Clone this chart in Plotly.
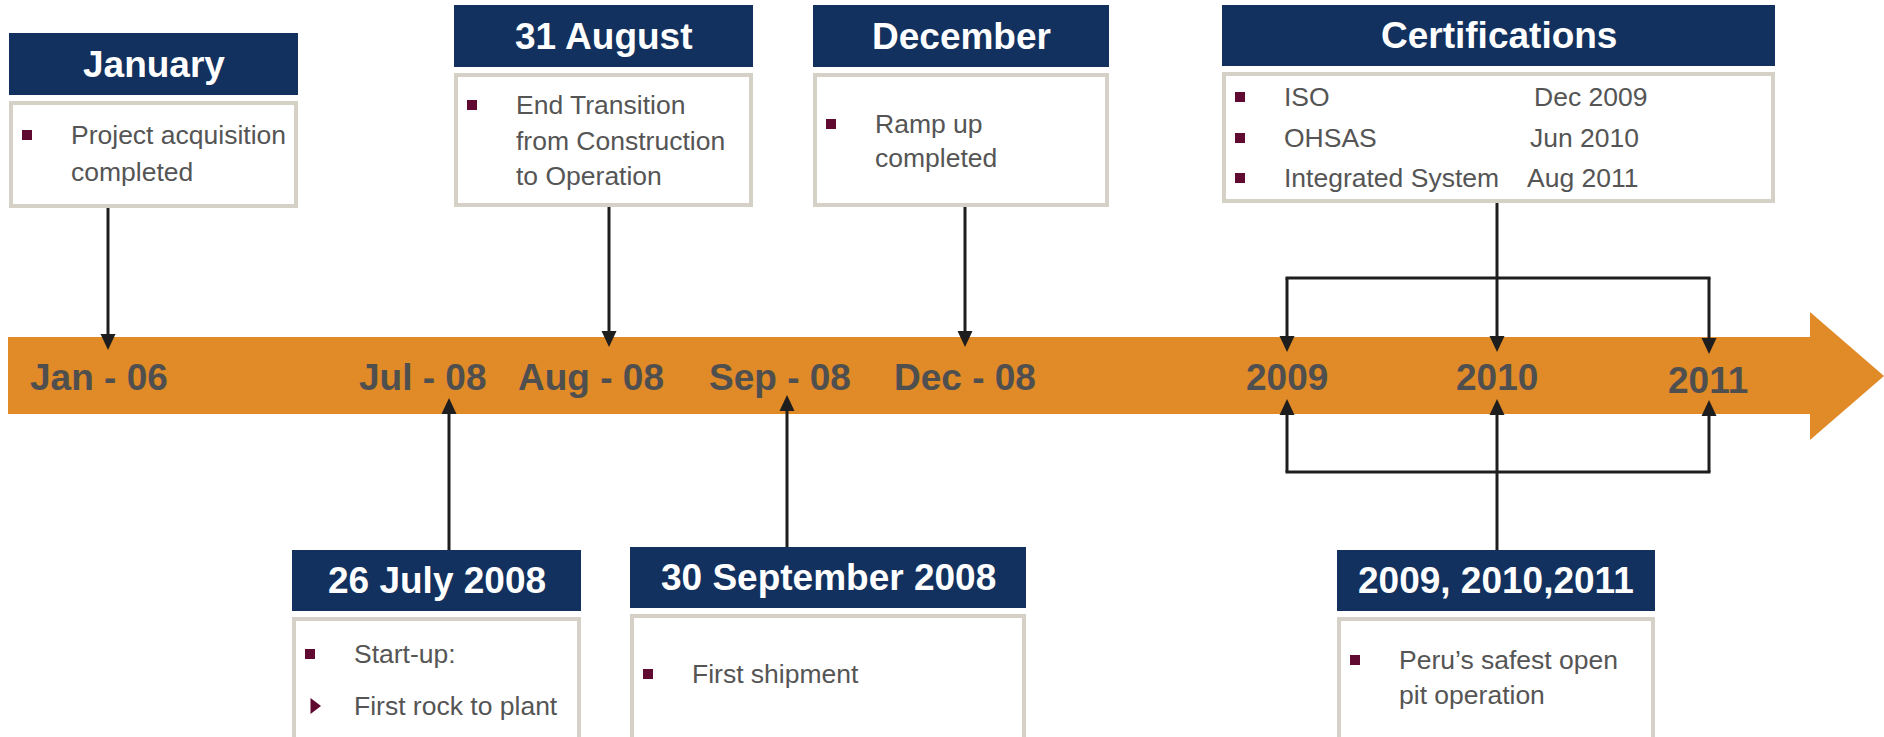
import plotly.graph_objects as go

# ---- chart content ----
bar_labels = ["Jan - 06", "Jul - 08", "Aug - 08", "Sep - 08", "Dec - 08", "2009", "2010", "2011"]

top_titles = ["January", "31 August", "December"]
top_lines = [
    ["Project acquisition", "completed"],
    ["End Transition", "from Construction", "to Operation"],
    ["Ramp up", "completed"],
]

cert_title = "Certifications"
cert_names = ["ISO", "OHSAS", "Integrated System"]
cert_dates = ["Dec 2009", "Jun 2010", "Aug 2011"]

bottom_titles = ["26 July 2008", "30 September 2008", "2009, 2010,2011"]
bottom_lines = [
    ["Start-up:", "First rock to plant"],
    ["First shipment"],
    ["Peru’s safest open", "pit operation"],
]
# bullet symbol for each line ("" means a wrapped continuation line)
bottom_bullets = [
    ["square", "triangle-right"],
    ["square"],
    ["square", ""],
]

# ---- layout / style ----
W, H = 1884, 737
NAVY = "#12315E"
ORANGE = "#E08A28"
BORDER = "#D5D1C7"
MAROON = "#600A32"
TXT = "#555555"
LBL = "#4F4F4F"
INK = "#1E1E1E"
FONT = "Liberation Sans, Arial, sans-serif"

label_pos = [(99, 377), (423, 377), (591, 377), (780, 377), (965, 377),
             (1287, 377), (1497, 377), (1708, 380)]

top_boxes = [
    dict(x0=9, x1=298, hy0=33, hy1=95, by1=208, ax=108, tip=350, ly=[135, 172]),
    dict(x0=454, x1=753, hy0=5, hy1=67, by1=207, ax=609, tip=347, ly=[105, 141, 176]),
    dict(x0=813, x1=1109, hy0=5, hy1=67, by1=207, ax=965, tip=347, ly=[124, 158]),
]
cert_box = dict(x0=1222, x1=1775, hy0=5, hy1=66, by1=203, ly=[97, 138, 178],
                date_x=[1532, 1528, 1525])
bottom_boxes = [
    dict(x0=292, x1=581, hy0=550, hy1=611, ax=449, tip=398, ly=[654, 706]),
    dict(x0=630, x1=1026, hy0=547, hy1=608, ax=787, tip=395, ly=[674]),
    dict(x0=1337, x1=1655, hy0=550, hy1=611, ax=1497, tip=399, ly=[660, 695]),
]
BRACKET_X = (1287, 1497, 1709)
BRACKET_TOP, BRACKET_BOT = 278, 472
TOP_TIPS = (352, 352, 354)
BOT_TIPS = (399, 399, 400)

TEXT_DX, BULLET_DX = 60, 18
HEAD = 16   # arrowhead length
HALF = 7.5  # arrowhead half width

shapes = []
annotations = []
bullets = {"square": ([], []), "triangle-right": ([], [])}


def line(x0, y0, x1, y1):
    shapes.append(dict(type="line", x0=x0, y0=y0, x1=x1, y1=y1,
                       line=dict(color=INK, width=3), layer="above"))


def arrow(x, y_from, y_tip):
    d = 1 if y_tip > y_from else -1
    base = y_tip - d * HEAD
    line(x, y_from, x, base)
    shapes.append(dict(type="path",
                       path=f"M {x - HALF},{base} L {x + HALF},{base} L {x},{y_tip} Z",
                       fillcolor=INK, line=dict(width=0), layer="above"))


def box(x0, x1, hy0, hy1, by1, title):
    shapes.append(dict(type="rect", x0=x0, x1=x1, y0=hy0, y1=hy1,
                       fillcolor=NAVY, line=dict(width=0), layer="below"))
    shapes.append(dict(type="rect", x0=x0 + 2, x1=x1 - 2, y0=hy1 + 8, y1=by1 - 2,
                       fillcolor="white", line=dict(color=BORDER, width=4), layer="below"))
    annotations.append(dict(x=(x0 + x1) / 2, y=(hy0 + hy1) / 2, text=f"<b>{title}</b>",
                            showarrow=False, xanchor="center", yanchor="middle",
                            font=dict(family=FONT, size=37, color="white")))


def body_text(x, y, text):
    annotations.append(dict(x=x, y=y, text=text, showarrow=False,
                            xanchor="left", yanchor="middle",
                            font=dict(family=FONT, size=26.5, color=TXT)))


def bullet(x, y, sym):
    bullets[sym][0].append(x)
    bullets[sym][1].append(y)


# big orange timeline arrow
shapes.append(dict(type="path",
                   path="M 8,337 L 1810,337 L 1810,312 L 1884,376 L 1810,440 L 1810,414 L 8,414 Z",
                   fillcolor=ORANGE, line=dict(width=0), layer="below"))
for (lx, ly), lab in zip(label_pos, bar_labels):
    annotations.append(dict(x=lx, y=ly, text=f"<b>{lab}</b>", showarrow=False,
                            xanchor="center", yanchor="middle",
                            font=dict(family=FONT, size=37, color=LBL)))

# boxes above the bar
for b, title, lines in zip(top_boxes, top_titles, top_lines):
    box(b["x0"], b["x1"], b["hy0"], b["hy1"], b["by1"], title)
    for i, (y, t) in enumerate(zip(b["ly"], lines)):
        body_text(b["x0"] + TEXT_DX, y, t)
        if i == 0:
            bullet(b["x0"] + BULLET_DX, y, "square")
    arrow(b["ax"], b["by1"], b["tip"])

# certifications
c = cert_box
box(c["x0"], c["x1"], c["hy0"], c["hy1"], c["by1"], cert_title)
for y, name, date, dx in zip(c["ly"], cert_names, cert_dates, c["date_x"]):
    body_text(c["x0"] + TEXT_DX, y, name)
    body_text(dx, y, date)
    bullet(c["x0"] + BULLET_DX, y, "square")
line(BRACKET_X[1], c["by1"], BRACKET_X[1], BRACKET_TOP)
line(BRACKET_X[0] - 1.5, BRACKET_TOP, BRACKET_X[2] + 1.5, BRACKET_TOP)
for x, tip in zip(BRACKET_X, TOP_TIPS):
    arrow(x, BRACKET_TOP, tip)

# boxes below the bar
for b, title, lines, syms in zip(bottom_boxes, bottom_titles, bottom_lines, bottom_bullets):
    box(b["x0"], b["x1"], b["hy0"], b["hy1"], H + 4, title)
    for y, t, s in zip(b["ly"], lines, syms):
        body_text(b["x0"] + TEXT_DX, y, t)
        if s:
            bullet(b["x0"] + BULLET_DX + (4 if s != "square" else 0), y, s)
for b in bottom_boxes[:2]:
    arrow(b["ax"], b["hy0"], b["tip"])
line(BRACKET_X[1], bottom_boxes[2]["hy0"], BRACKET_X[1], BRACKET_BOT)
line(BRACKET_X[0] - 1.5, BRACKET_BOT, BRACKET_X[2] + 1.5, BRACKET_BOT)
for x, tip in zip(BRACKET_X, BOT_TIPS):
    arrow(x, BRACKET_BOT, tip)

fig = go.Figure()
for sym, size in (("square", 10), ("triangle-right", 14)):
    xs, ys = bullets[sym]
    fig.add_trace(go.Scatter(x=xs, y=ys, mode="markers", hoverinfo="skip",
                             marker=dict(symbol=sym, size=size, color=MAROON,
                                         opacity=1, line=dict(width=0))))

fig.update_layout(
    width=W, height=H,
    margin=dict(l=0, r=0, t=0, b=0),
    paper_bgcolor="white", plot_bgcolor="white",
    showlegend=False,
    xaxis=dict(range=[0, W], visible=False, fixedrange=True),
    yaxis=dict(range=[H, 0], visible=False, fixedrange=True),
    shapes=shapes, annotations=annotations,
)

# drop the default page margin so the figure sits flush with the window
fig.write_html("out.html", config={"displayModeBar": False},
               post_script="document.body.style.margin='0';document.body.style.overflow='hidden';")
